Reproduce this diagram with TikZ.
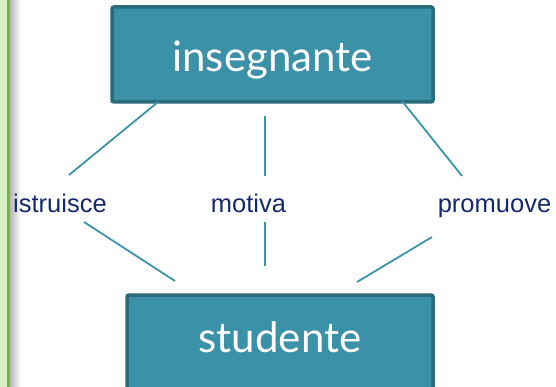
\documentclass[tikz,border=0pt]{standalone}
\usepackage{fontspec}
\setmainfont{Liberation Sans}
\newfontfamily\boxfont{Lato}
\definecolor{boxfill}{HTML}{3B91A7}
\definecolor{boxedge}{HTML}{2A6B7B}
\definecolor{linkcol}{HTML}{3A94AA}
\definecolor{labcol}{HTML}{15296C}
\definecolor{stripfill}{HTML}{D9F0C3}
\definecolor{stripline}{HTML}{79B447}
\tikzset{
  rolebox/.style={draw=boxedge, line width=3.5pt, fill=boxfill, rounded corners=2pt,
    text=white, font=\boxfont\fontsize{42}{48}\selectfont, inner sep=0pt,
    text depth=0pt},
  verb/.style={text=labcol, font=\fontsize{25.5}{30}\selectfont, inner sep=0pt, anchor=base},
  link/.style={draw=linkcol, line width=1.8pt}
}
\begin{document}
\begin{tikzpicture}[x=1pt,y=-1pt]
\useasboundingbox (0,0) rectangle (556,387);
\clip (0,0) rectangle (556,387);
% left strip
\fill[stripfill] (0,0) rectangle (7.5,387);
\shade[left color=black!30, right color=white] (9,0) rectangle (21,387);
\fill[stripline] (7,0) rectangle (9.5,387);
% boxes
\node[rolebox, minimum width=321pt, minimum height=95pt, text height=35pt] (ins) at (272.5,54.5) {insegnante};
\node[rolebox, minimum width=306pt, minimum height=97pt, text height=17pt] (stu) at (280,343.5) {studente};
% labels
\node[verb] (istr) at (60,212) {istruisce};
\node[verb] (mot) at (248.5,212) {motiva};
\node[verb] (prom) at (494.5,212) {promuove};
% connector ends
\coordinate (a1) at (158,102);
\coordinate (a2) at (69,175);
\coordinate (a3) at (84,222);
\coordinate (a4) at (175,281);
\coordinate (b1) at (265,116);
\coordinate (b2) at (265,176);
\coordinate (b3) at (265,222);
\coordinate (b4) at (265,266);
\coordinate (c1) at (402,101);
\coordinate (c2) at (462,176);
\coordinate (c3) at (432,237);
\coordinate (c4) at (357,282);
\draw[link] (a1) -- (a2);
\draw[link] (a3) -- (a4);
\draw[link] (b1) -- (b2);
\draw[link] (b3) -- (b4);
\draw[link] (c1) -- (c2);
\draw[link] (c3) -- (c4);
\end{tikzpicture}
\end{document}
